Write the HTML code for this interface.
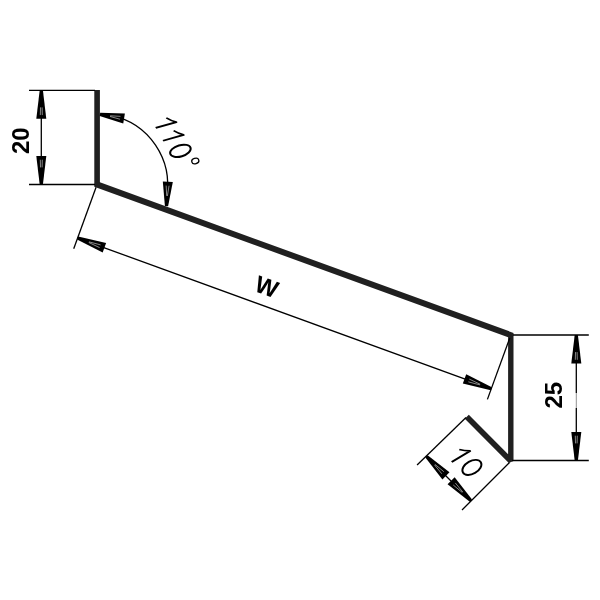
<!DOCTYPE html>
<html><head><meta charset="utf-8"><style>
html,body{margin:0;padding:0;background:#fff;width:600px;height:600px;overflow:hidden}
svg{display:block;filter:grayscale(100%)}
text{font-family:"Liberation Sans",sans-serif}
</style></head><body>
<svg width="600" height="600" viewBox="0 0 600 600">
<rect width="600" height="600" fill="#fff"/>
<polygon points="94.30,90.00 94.30,186.67 508.10,337.31 508.10,454.31 468.79,414.73 464.81,418.67 508.81,462.97 513.50,461.00 513.50,332.89 99.90,182.33 99.90,90.00" fill="#231f20"/>
<line x1="29" y1="90.3" x2="95" y2="90.3" stroke="#000" stroke-width="1.3" fill="none"/>
<line x1="29" y1="184.5" x2="95" y2="184.5" stroke="#000" stroke-width="1.3" fill="none"/>
<line x1="41.3" y1="100" x2="41.3" y2="175" stroke="#000" stroke-width="1.3" fill="none"/>
<polygon points="39.70,90.30 42.90,90.30 46.30,118.80 36.30,118.80" fill="#000"/><line x1="42.10" y1="107.40" x2="42.30" y2="115.09" stroke="#fff" stroke-width="0.75" opacity="0.7"/><line x1="40.50" y1="107.40" x2="40.30" y2="115.09" stroke="#fff" stroke-width="0.75" opacity="0.7"/>
<polygon points="42.90,184.50 39.70,184.50 36.30,156.00 46.30,156.00" fill="#000"/><line x1="40.50" y1="167.40" x2="40.30" y2="159.71" stroke="#fff" stroke-width="0.75" opacity="0.7"/><line x1="42.10" y1="167.40" x2="42.30" y2="159.71" stroke="#fff" stroke-width="0.75" opacity="0.7"/>
<line x1="513" y1="335" x2="588.8" y2="335" stroke="#000" stroke-width="1.3" fill="none"/>
<line x1="512" y1="460.5" x2="588.8" y2="460.5" stroke="#000" stroke-width="1.3" fill="none"/>
<line x1="576.3" y1="345" x2="576.3" y2="393" stroke="#000" stroke-width="1.3" fill="none"/>
<line x1="576.3" y1="393" x2="576.3" y2="408" stroke="#000" stroke-width="0.8" opacity="0.55"/>
<line x1="576.3" y1="408" x2="576.3" y2="450" stroke="#000" stroke-width="1.3" fill="none"/>
<polygon points="574.70,335.00 577.90,335.00 581.30,363.50 571.30,363.50" fill="#000"/><line x1="577.10" y1="352.10" x2="577.30" y2="359.80" stroke="#fff" stroke-width="0.75" opacity="0.7"/><line x1="575.50" y1="352.10" x2="575.30" y2="359.80" stroke="#fff" stroke-width="0.75" opacity="0.7"/>
<polygon points="577.90,460.50 574.70,460.50 571.30,432.00 581.30,432.00" fill="#000"/><line x1="575.50" y1="443.40" x2="575.30" y2="435.70" stroke="#fff" stroke-width="0.75" opacity="0.7"/><line x1="577.10" y1="443.40" x2="577.30" y2="435.70" stroke="#fff" stroke-width="0.75" opacity="0.7"/>
<line x1="96.07" y1="187.32" x2="73.71" y2="248.77" stroke="#000" stroke-width="1.3" fill="none"/>
<line x1="509.77" y1="337.92" x2="487.41" y2="399.37" stroke="#000" stroke-width="1.3" fill="none"/>
<line x1="77.60" y1="238.06" x2="491.30" y2="388.66" stroke="#000" stroke-width="1.3" fill="none"/>
<polygon points="77.06,239.57 78.15,236.56 106.10,243.11 102.68,252.51" fill="#000"/><line x1="88.97" y1="241.83" x2="100.60" y2="244.89" stroke="#fff" stroke-width="0.75" opacity="0.7"/><line x1="88.73" y1="242.49" x2="99.61" y2="247.61" stroke="#fff" stroke-width="0.75" opacity="0.7"/>
<polygon points="491.85,387.16 490.76,390.17 462.81,383.61 466.23,374.22" fill="#000"/><line x1="479.94" y1="384.90" x2="468.31" y2="381.84" stroke="#fff" stroke-width="0.75" opacity="0.7"/><line x1="480.18" y1="384.24" x2="469.30" y2="379.11" stroke="#fff" stroke-width="0.75" opacity="0.7"/>
<path d="M111.76,115.54 A70.5,70.5 0 0 1 166.53,196.74" stroke="#000" stroke-width="1.3" fill="none"/>
<polygon points="99.64,115.98 100.16,112.82 124.89,113.51 123.24,123.38" fill="#000"/><line x1="110.11" y1="115.75" x2="120.44" y2="116.37" stroke="#fff" stroke-width="0.75" opacity="0.7"/><line x1="109.99" y1="116.44" x2="119.96" y2="119.23" stroke="#fff" stroke-width="0.75" opacity="0.7"/>
<polygon points="168.10,206.29 164.90,206.11 162.82,181.47 172.81,182.00" fill="#000"/><line x1="166.70" y1="195.91" x2="166.16" y2="185.57" stroke="#fff" stroke-width="0.75" opacity="0.7"/><line x1="167.40" y1="195.94" x2="169.05" y2="185.73" stroke="#fff" stroke-width="0.75" opacity="0.7"/>
<line x1="466" y1="417.5" x2="417.1" y2="465" stroke="#000" stroke-width="1.3" fill="none"/>
<line x1="509.5" y1="462.5" x2="462" y2="510" stroke="#000" stroke-width="1.3" fill="none"/>
<line x1="426.25" y1="456.25" x2="471" y2="501" stroke="#000" stroke-width="1.3" fill="none"/>
<polygon points="425.37,457.53 427.63,455.27 449.48,472.31 442.41,479.38" fill="#000"/><line x1="434.91" y1="464.32" x2="443.86" y2="471.71" stroke="#fff" stroke-width="0.75" opacity="0.7"/><line x1="434.42" y1="464.81" x2="441.81" y2="473.76" stroke="#fff" stroke-width="0.75" opacity="0.7"/>
<polygon points="472.03,499.47 469.77,501.73 447.57,484.34 454.64,477.27" fill="#000"/><line x1="462.34" y1="492.53" x2="453.24" y2="484.99" stroke="#fff" stroke-width="0.75" opacity="0.7"/><line x1="462.83" y1="492.04" x2="455.29" y2="482.94" stroke="#fff" stroke-width="0.75" opacity="0.7"/>
<text x="0" y="0" font-family="Liberation Sans" font-weight="bold" font-size="24" text-anchor="middle" transform="translate(29,140.7) rotate(-90)">20</text>
<text x="0" y="0" font-family="Liberation Sans" font-weight="bold" font-size="24" text-anchor="middle" transform="translate(562,395.2) rotate(-90)">25</text>
<text x="0" y="0" font-family="Liberation Sans" font-weight="bold" font-size="24" text-anchor="middle" transform="translate(263.8,294.6) rotate(20)">W</text>
<g transform="translate(155.7,127.9) rotate(60.3) skewX(-14)"><path d="M0.00,0 L0.00,-20.80 Q-3.20,-16.60 -7.00,-14.20" fill="none" stroke="#000" stroke-width="1.9" stroke-linecap="butt" stroke-linejoin="round"/><path d="M14.74,0 L14.74,-20.80 Q11.54,-16.60 7.74,-14.20" fill="none" stroke="#000" stroke-width="1.9" stroke-linecap="butt" stroke-linejoin="round"/></g>
<ellipse cx="0" cy="0" rx="10.6" ry="5.6" transform="translate(180.4,150.8) rotate(-16.5)" fill="none" stroke="#000" stroke-width="2.0"/>
<ellipse cx="0" cy="0" rx="3.6" ry="2.7" transform="translate(195.3,161.0) rotate(-18.6)" fill="none" stroke="#000" stroke-width="1.35"/>
<g transform="translate(451.7,462) rotate(45) skewX(-14)"><path d="M0.00,0 L0.00,-20.80 Q-3.20,-16.60 -7.00,-14.20" fill="none" stroke="#000" stroke-width="1.9" stroke-linecap="butt" stroke-linejoin="round"/></g>
<ellipse cx="0" cy="0" rx="10.3" ry="6.4" transform="translate(471.9,467.4) rotate(-29.6)" fill="none" stroke="#000" stroke-width="1.95"/>
</svg>
</body></html>
